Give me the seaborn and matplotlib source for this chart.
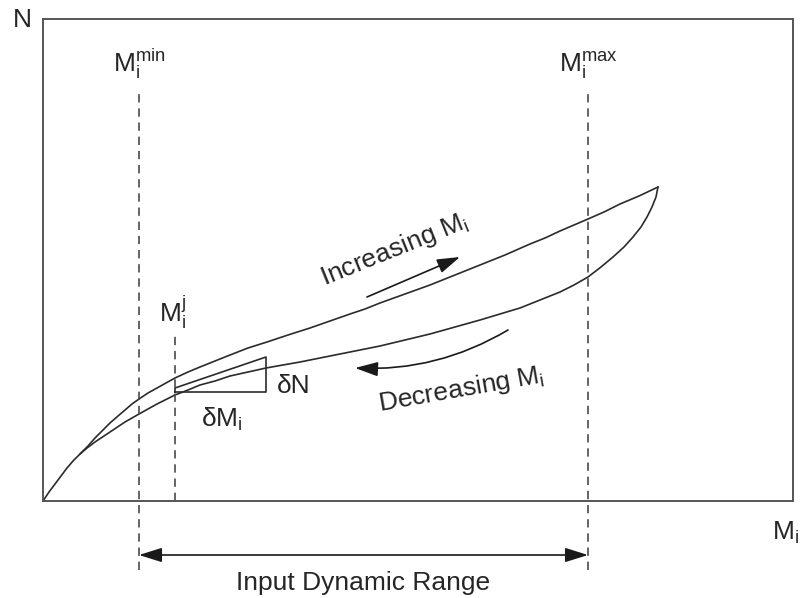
import matplotlib
matplotlib.use("Agg")
import matplotlib.pyplot as plt
import seaborn as sns

sns.set_style("white")
plt.rcParams["font.family"] = ["Liberation Sans", "DejaVu Sans"]
plt.rcParams["mathtext.fontset"] = "custom"
plt.rcParams["mathtext.rm"] = "Liberation Sans"
plt.rcParams["mathtext.it"] = "Liberation Sans"
plt.rcParams["mathtext.default"] = "regular"

# increasing M_i branch (origin -> saturation tip)
up_x = [0, 6, 12, 18, 24, 30, 37, 45, 52, 60, 67, 75, 82, 89, 96, 105, 114,
        123, 132, 145, 157, 172, 187, 205, 224, 245, 267, 287, 307, 322, 337,
        362, 387, 412, 437, 462, 487, 502, 517, 531, 545, 561, 577, 596, 615]
up_y = [0, 9, 17, 25, 33, 40, 47, 55, 63, 71, 78, 85, 91, 97, 102, 108, 113,
        118, 123, 129, 134, 140, 146, 153, 159, 166, 173, 180, 187, 192, 198,
        207, 216, 226, 236, 246, 257, 263, 270, 276, 282, 289, 297, 305, 314]

# decreasing M_i branch (tip -> back to the merge point)
down_x = [615, 613, 609, 604, 598, 590, 581, 570, 558, 545, 531, 517, 497, 477,
          457, 437, 412, 387, 362, 337, 312, 287, 257, 223, 205, 187, 172, 157,
          145, 132, 114, 96, 82, 67, 52, 44, 37]
down_y = [314, 304, 294, 284, 274, 264, 254, 244, 234, 224, 216, 209, 201, 193,
          187, 181, 174, 167, 161, 155, 150, 145, 139, 133, 129, 125, 120, 116,
          111, 106, 97, 87, 79, 69, 59, 53, 47]

# slope triangle at M_i^j
tri_x = [132, 132, 223, 223, 132]
tri_y = [109, 113, 144, 109, 109]

m_min = 96
m_max = 545
m_j = 132

line_col = "#2b2b2b"
dash_col = "#4a4a4a"

fig = plt.figure(figsize=(8, 5.98), dpi=100)
ax = fig.add_axes([43 / 800, 97 / 598, 750 / 800, 482 / 598])

sns.lineplot(x=up_x, y=up_y, sort=False, estimator=None, color=line_col, lw=1.2, ax=ax)
sns.lineplot(x=down_x, y=down_y, sort=False, estimator=None, color=line_col, lw=1.2, ax=ax)
sns.lineplot(x=tri_x, y=tri_y, sort=False, estimator=None, color=line_col, lw=1.2, ax=ax)

# dashed markers
for xv, y0, y1 in [(m_min, -69, 409), (m_max, -69, 409), (m_j, 0, 166)]:
    sns.lineplot(x=[xv, xv], y=[y0, y1], sort=False, estimator=None,
                 color=dash_col, lw=1.2, linestyle=(0, (5, 3.5)), ax=ax)

for ln in ax.lines:
    ln.set_clip_on(False)

ax.set_xlim(0, 750)
ax.set_ylim(0, 482)
ax.set_xticks([])
ax.set_yticks([])
for sp in ax.spines.values():
    sp.set_visible(True)
    sp.set_color("#555555")
    sp.set_linewidth(1.4)

fs = 19
arrow = dict(arrowstyle="-|>,head_length=0.7,head_width=0.22", color="#1a1a1a",
             lw=1.2, shrinkA=0, shrinkB=0, mutation_scale=20)

ax.annotate("", xy=(417, 244), xytext=(324, 204), arrowprops=arrow)
ax.annotate("", xy=(312, 133), xytext=(465, 171),
            arrowprops=dict(arrow, connectionstyle="arc3,rad=-0.15"))
ax.annotate("", xy=(m_max, -54), xytext=(m_min, -54), annotation_clip=False,
            arrowprops=dict(arrow, arrowstyle="<|-|>,head_length=0.7,head_width=0.22"))

ax.text(351, 251, r"Increasing $M_i$", fontsize=fs, rotation=22,
        ha="center", va="center", rotation_mode="anchor")
ax.text(418, 111, r"Decreasing $M_i$", fontsize=fs, rotation=10,
        ha="center", va="center", rotation_mode="anchor")

ax.text(m_min, 429, r"$M_i^{min}$", fontsize=fs, ha="center", va="baseline")
ax.text(m_max, 429, r"$M_i^{max}$", fontsize=fs, ha="center", va="baseline")
ax.text(m_j - 2, 179, r"$M_i^j$", fontsize=fs, ha="center", va="baseline")
ax.text(234, 108, "δN", fontsize=fs, ha="left", va="baseline")
ax.text(179, 74, r"δ$M_i$", fontsize=fs, ha="center", va="baseline")

ax.text(-21, 481, "N", fontsize=fs, ha="center", va="center", clip_on=False)
ax.text(743, -39, r"$M_i$", fontsize=fs, ha="center", va="baseline", clip_on=False)
ax.text((m_min + m_max) / 2, -89, "Input Dynamic Range", fontsize=fs,
        ha="center", va="baseline", clip_on=False)

fig.savefig("out.png", dpi=100)
